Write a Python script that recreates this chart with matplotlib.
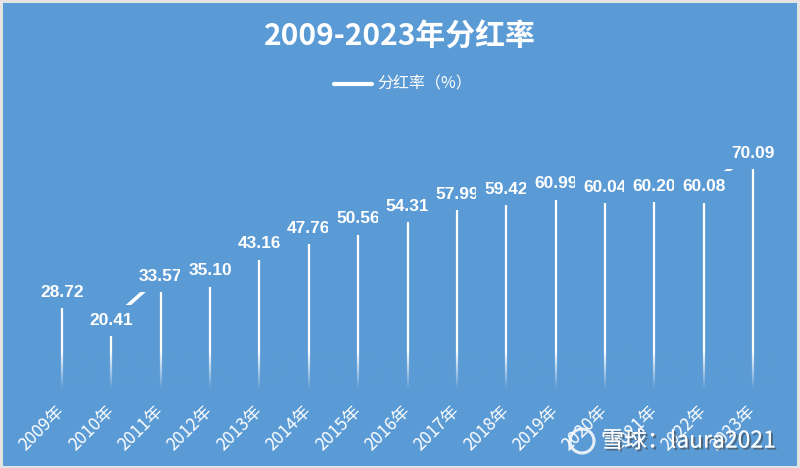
import numpy as np
import matplotlib
matplotlib.use("Agg")
import matplotlib.pyplot as plt
import matplotlib.patheffects as pe
from matplotlib.patches import Rectangle, Ellipse

plt.rcParams['font.family'] = ['Noto Sans CJK SC', 'DejaVu Sans']

years = ['2009年', '2010年', '2011年', '2012年', '2013年', '2014年', '2015年', '2016年',
         '2017年', '2018年', '2019年', '2020年', '2021年', '2022年', '2023年']
payout = [28.72, 20.41, 33.57, 35.10, 43.16, 47.76, 50.56, 54.31,
          57.99, 59.42, 60.99, 60.04, 60.20, 60.08, 70.09]
title = '2009-2023年分红率'
series_name = '分红率（%）'
watermark = '雪球：laura2021'

BG = '#5B9BD5'
W, H = 800, 468
fig = plt.figure(figsize=(W / 100, H / 100), dpi=100, facecolor='#E3E3E3')
fig.patches.append(Rectangle((3 / W, 2 / H), 794 / W, 463 / H, transform=fig.transFigure,
                             facecolor=BG, edgecolor='none', zorder=-5))

ax = fig.add_axes([37.3 / W, (H - 389) / H, (777.7 - 37.3) / W, (389 - 120) / H])
ax.set_facecolor('none')
ax.set_zorder(1)
x = np.arange(len(years))
ymax = 80

# drop lines
ax.vlines(x, 0, payout, colors='white', linewidth=1.6, zorder=2)
# connecting line
ax.plot(x, payout, color='white', linewidth=2.6, zorder=2, solid_capstyle='butt')

# fade drop lines toward baseline
n = 200
grad = np.zeros((n, 1, 4))
rgb = matplotlib.colors.to_rgb(BG)
grad[..., 0], grad[..., 1], grad[..., 2] = rgb
grad[:, 0, 3] = np.linspace(1, 0, n)
ax.imshow(grad, extent=[-0.5, len(years) - 0.5, 0, 11.5], origin='lower',
          aspect='auto', zorder=2.5, interpolation='bilinear')

# data labels with background boxes
for i, v in enumerate(payout):
    ax.text(i, v, f'{v:.2f}', ha='center', va='center', color='white',
            fontsize=12.5, fontweight='bold', family=['Liberation Sans', 'DejaVu Sans'],
            zorder=3 + i * 0.01,
            bbox=dict(boxstyle='square,pad=0.47', facecolor=BG, edgecolor='none'))

ax.set_xlim(-0.5, len(years) - 0.5)
ax.set_ylim(0, ymax)
ax.set_xticks(x)
ax.set_xticklabels(years, rotation=45, ha='right', va='center', rotation_mode='anchor',
                   color='white', fontsize=12.5)
ax.tick_params(axis='x', length=0, pad=14)
ax.set_yticks([])
for s in ax.spines.values():
    s.set_visible(False)

fig.text(0.5, (H - 37) / H, title, ha='center', va='center', color='white',
         fontsize=21.5, fontweight='bold')

# legend
ax_leg_y = (H - 84) / H
fig.add_artist(matplotlib.lines.Line2D([334 / W, 372 / W], [ax_leg_y, ax_leg_y],
                                       color='white', linewidth=3, solid_capstyle='round'))
fig.text(377 / W, ax_leg_y, series_name, ha='left', va='center', color='white', fontsize=11.5)

shadow = [pe.withSimplePatchShadow(offset=(1.5, -1.5), shadow_rgbFace='#444444', alpha=0.6),
          pe.Normal()]
fig.text(601 / W, (H - 441) / H, watermark, ha='left', va='center', color='white',
         fontsize=16.5, alpha=0.9, path_effects=shadow, zorder=6)
logo = Ellipse((582 / W, (H - 441) / H), 24 / W, 24 / H, transform=fig.transFigure, fill=False,
               edgecolor='white', linewidth=2.2, alpha=0.85, zorder=6)
fig.add_artist(logo)

fig.savefig('out.png', dpi=100, facecolor=fig.get_facecolor())
